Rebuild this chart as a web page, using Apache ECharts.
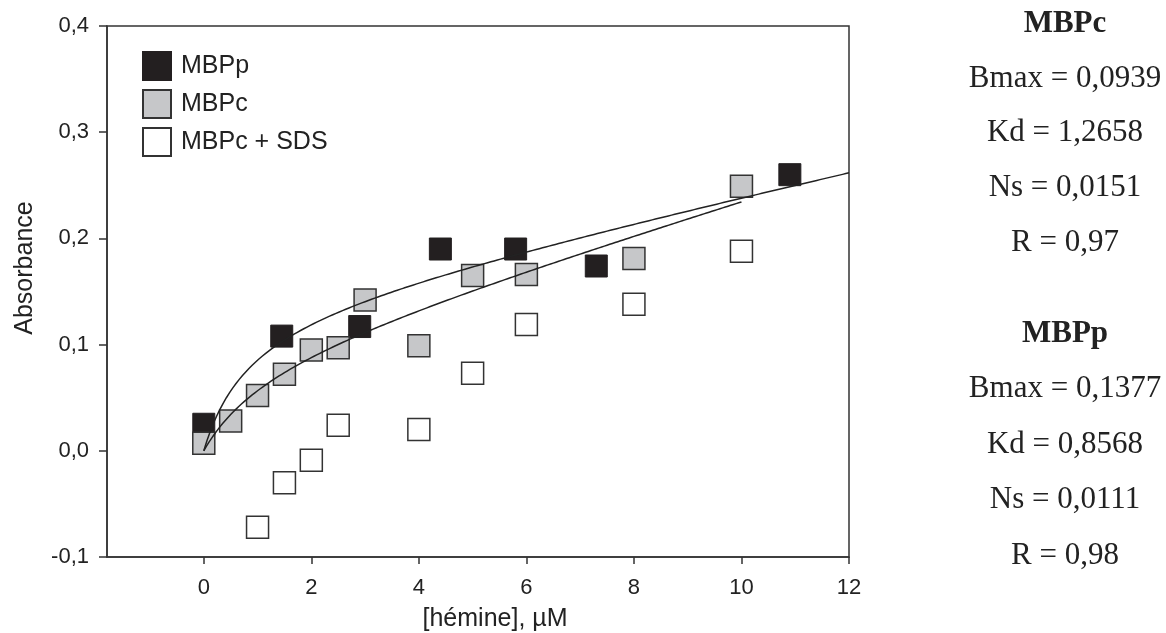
<!DOCTYPE html>
<html>
<head>
<meta charset="utf-8">
<script src="https://cdn.jsdelivr.net/npm/echarts@6/dist/echarts.min.js"></script>
<style>html,body{margin:0;padding:0;background:#fff}#c{width:1166px;height:633px}</style>
</head>
<body>
<div id="c"></div>
<script>
// ---- data ----
const seriesNames = ['MBPp', 'MBPc', 'MBPc + SDS'];
const mbppX = [0, 1.45, 2.9, 4.4, 5.8, 7.3, 10.9];
const mbppY = [0.025, 0.108, 0.117, 0.190, 0.190, 0.174, 0.260];
const mbpcX = [0, 0.5, 1, 1.5, 2, 2.5, 3, 4, 5, 6, 8, 10];
const mbpcY = [0.007, 0.028, 0.052, 0.072, 0.095, 0.097, 0.142, 0.099, 0.165, 0.166, 0.181, 0.249];
const sdsX = [1, 1.5, 2, 2.5, 4, 5, 6, 8, 10];
const sdsY = [-0.072, -0.030, -0.009, 0.024, 0.020, 0.073, 0.119, 0.138, 0.188];
// fit parameters printed on the chart [Bmax, Kd, Ns, R]
const fitMBPc = [0.0939, 1.2658, 0.0151, 0.97];
const fitMBPp = [0.1377, 0.8568, 0.0111, 0.98];
const fitRangeMBPc = [0, 10];
const fitRangeMBPp = [0, 12];
const xTicks = [0, 2, 4, 6, 8, 10, 12];
const yTicks = [-0.1, 0, 0.1, 0.2, 0.3, 0.4];
const panelMBPc = ['MBPc', 'Bmax = 0,0939', 'Kd = 1,2658', 'Ns = 0,0151', 'R = 0,97'];
const panelMBPp = ['MBPp', 'Bmax = 0,1377', 'Kd = 0,8568', 'Ns = 0,0111', 'R = 0,98'];

function zip(xs, ys) { return xs.map((x, i) => [x, ys[i]]); }
function fitCurve(p, range) {
  const pts = [];
  const n = 200;
  for (let i = 0; i <= n; i++) {
    const x = range[0] + (range[1] - range[0]) * i / n;
    pts.push([x, p[0] * x / (p[1] + x) + p[2] * x]);
  }
  return pts;
}
const fmt = v => v.toFixed(1).replace('.', ',');

const chart = echarts.init(document.getElementById('c'), null, {renderer: 'canvas'});
const border = '#333';
const sans = 'Arial, "Liberation Sans", sans-serif';
const scatterBase = {type: 'scatter', symbol: 'rect', symbolSize: 22};
const panelText = [];
function addPanel(lines, ys) {
  lines.forEach((t, i) => {
    panelText.push({
      type: 'text', x: 1065, y: ys[i],
      style: {
        text: t, textAlign: 'center', textVerticalAlign: 'middle',
        font: (i === 0 ? 'bold ' : '') + '31px "Liberation Serif", "Times New Roman", serif',
        fill: '#222'
      }
    });
  });
}
addPanel(panelMBPc, [24, 79, 133, 188, 243]);
addPanel(panelMBPp, [334, 389, 445, 500, 556]);

chart.setOption({
  animation: false,
  backgroundColor: '#fff',
  textStyle: {fontFamily: sans},
  grid: {left: 107, right: 317, top: 26, bottom: 76, show: true, borderColor: border, borderWidth: 1.5},
  legend: {
    data: seriesNames, orient: 'vertical', left: 137, top: 46,
    itemWidth: 28, itemHeight: 28, itemGap: 8, icon: 'rect',
    textStyle: {fontSize: 25, color: '#222', padding: [0, 0, 0, 5]}
  },
  xAxis: {
    type: 'value', min: -1.8, max: 12,
    axisLine: {onZero: false, lineStyle: {color: border, width: 1.5}},
    axisTick: {customValues: xTicks, length: 7, lineStyle: {color: border, width: 1.5}},
    axisLabel: {customValues: xTicks, margin: 20, fontSize: 22, color: '#222'},
    splitLine: {show: false}
  },
  yAxis: {
    type: 'value', min: -0.1, max: 0.4, interval: 0.1,
    axisLine: {onZero: false, lineStyle: {color: border, width: 1.5}},
    axisTick: {length: 8, lineStyle: {color: border, width: 1.5}},
    axisLabel: {margin: 18, fontSize: 22, color: '#222', formatter: v => fmt(v)},
    splitLine: {show: false}
  },
  graphic: [
    {type: 'text', x: 25, y: 268, rotation: Math.PI / 2,
      style: {text: 'Absorbance', font: '25px ' + sans, fill: '#222', textAlign: 'center', textVerticalAlign: 'middle'}},
    {type: 'text', x: 495, y: 619,
      style: {text: '[hémine], µM', font: '25px ' + sans, fill: '#222', textAlign: 'center', textVerticalAlign: 'middle'}}
  ].concat(panelText),
  series: [
    Object.assign({}, scatterBase, {name: seriesNames[0], data: zip(mbppX, mbppY), z: 2,
      itemStyle: {color: '#231f20', borderColor: '#231f20', borderWidth: 1, opacity: 1}}),
    Object.assign({}, scatterBase, {name: seriesNames[1], data: zip(mbpcX, mbpcY), z: 3,
      itemStyle: {color: '#c6c7c9', borderColor: border, borderWidth: 1.5, opacity: 1}}),
    Object.assign({}, scatterBase, {name: seriesNames[2], data: zip(sdsX, sdsY), z: 3,
      itemStyle: {color: '#ffffff', borderColor: border, borderWidth: 1.5, opacity: 1}}),
    {type: 'line', name: 'fitMBPc', data: fitCurve(fitMBPc, fitRangeMBPc), showSymbol: false, symbol: 'none',
      lineStyle: {color: '#222', width: 1.5}, z: 5, silent: true},
    {type: 'line', name: 'fitMBPp', data: fitCurve(fitMBPp, fitRangeMBPp), showSymbol: false, symbol: 'none',
      lineStyle: {color: '#222', width: 1.5}, z: 5, silent: true}
  ]
});
</script>
</body>
</html>
